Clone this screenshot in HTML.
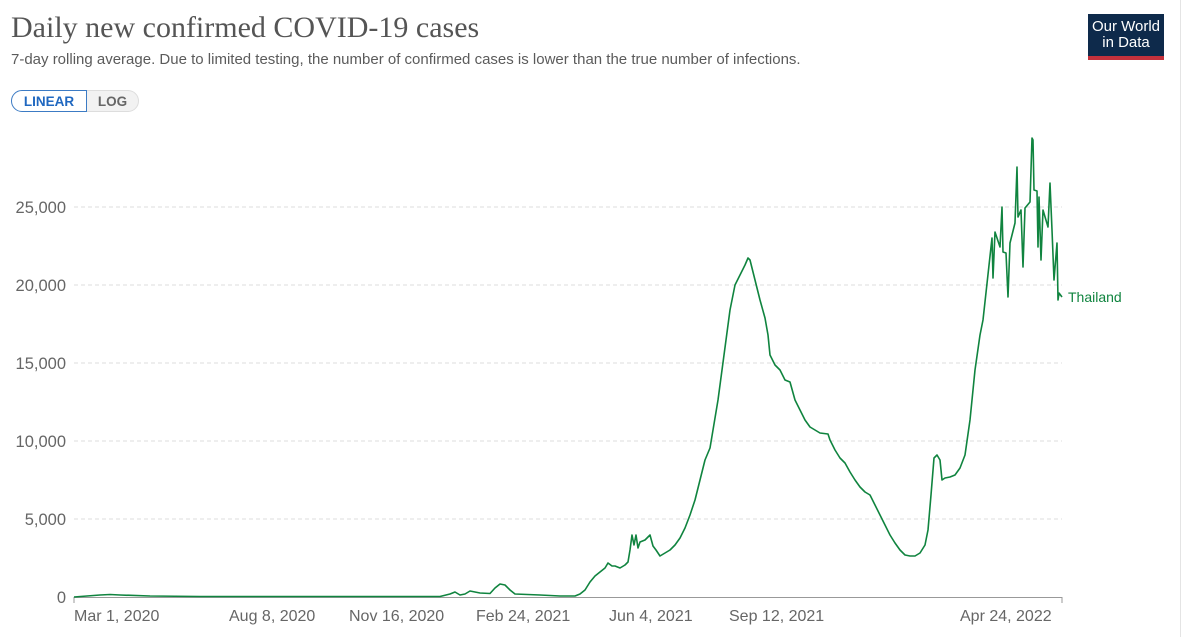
<!DOCTYPE html>
<html><head><style>
body{margin:0;background:#fff;width:1184px;height:637px;overflow:hidden;font-family:"Liberation Sans",sans-serif;position:relative}
.t{position:absolute;left:11px;top:11px;font-family:"Liberation Serif",serif;font-size:30px;color:#555}
.s{position:absolute;left:11px;top:51px;font-size:15px;color:#5b5b5b}
.btn{position:absolute;top:90px;height:22px;font-size:13.5px;line-height:22px;font-weight:bold}
.logo{position:absolute;left:1088px;top:14px;width:76px;height:46px;background:#0e2a4b;color:#fff;font-size:15px;text-align:center;line-height:16px;padding-top:5px;box-sizing:border-box;border-bottom:4px solid #c4313c}
</style></head><body>
<div class="t">Daily new confirmed COVID-19 cases</div>
<div class="s">7-day rolling average. Due to limited testing, the number of confirmed cases is lower than the true number of infections.</div>
<div class="btn" style="left:11px;width:76px;border:1px solid #3c7bc4;border-radius:12px 0 0 12px;color:#2068c0;text-align:center;box-sizing:border-box">LINEAR</div>
<div class="btn" style="left:87px;width:52px;border:1px solid #ddd;border-left:none;border-radius:0 12px 12px 0;background:#f2f2f2;color:#666;text-align:center;box-sizing:border-box">LOG</div>
<div class="logo">Our World<br>in Data</div>
<div style="position:absolute;left:1180px;top:0;width:1px;height:637px;background:#e4e4e4"></div>
<svg width="1184" height="637" style="position:absolute;left:0;top:0" font-family="Liberation Sans, sans-serif">
<g stroke="#ddd" stroke-dasharray="4,3">
<line x1="74" x2="1062" y1="519" y2="519"/><line x1="74" x2="1062" y1="441" y2="441"/><line x1="74" x2="1062" y1="363" y2="363"/><line x1="74" x2="1062" y1="285" y2="285"/><line x1="74" x2="1062" y1="207" y2="207"/>
</g>
<line x1="74" x2="1062" y1="597.5" y2="597.5" stroke="#999"/>
<g fill="#666" font-size="16.5" text-anchor="end">
<text x="66" y="603">0</text><text x="66" y="525">5,000</text><text x="66" y="447">10,000</text><text x="66" y="369">15,000</text><text x="66" y="291">20,000</text><text x="66" y="213">25,000</text>
</g>
<g fill="#666" font-size="16">
<text x="74" y="621">Mar 1, 2020</text><text x="229" y="621">Aug 8, 2020</text><text x="349" y="621">Nov 16, 2020</text><text x="476" y="621">Feb 24, 2021</text><text x="609" y="621">Jun 4, 2021</text><text x="729" y="621">Sep 12, 2021</text><text x="960" y="621">Apr 24, 2022</text>
</g>
<g stroke="#999"><line x1="74" x2="74" y1="597" y2="603"/><line x1="1062" x2="1062" y1="597" y2="603"/></g>
<polyline fill="none" stroke="#10843f" stroke-width="1.6" stroke-linejoin="round" points="74,597 100,595 110,594.5 120,595 150,596 200,596.5 440,596.5 450,594 455,592 460,595 465,594 470,591 480,593 490,593.5 495,588 500,584 505,585 510,590 515,594 540,595 560,596 575,596 580,594 585,590 590,582 595,576 600,572 605,568 608,563 612,566 615,566 620,568 625,565 628,562 630,550 632,535 634,545 636,535 638,548 640,542 645,540 650,535 653,546 656,550 660,556 665,553 670,550 675,545 680,538 685,528 690,515 695,500 700,480 705,460 710,448 713,430 718,400 722,370 726,340 730,310 735,285 740,275 745,265 748,258 750,260 755,280 760,300 765,318 768,335 770,355 775,365 780,370 785,380 790,382 795,400 800,410 805,420 810,427 815,430 820,433 828,434 830,440 835,450 840,458 845,463 850,472 855,480 860,487 865,492 870,495 875,505 880,515 885,525 890,535 895,543 900,550 905,555 910,556 915,556 920,553 925,545 928,530 931,495 934,458 937,455 940,460 942,480 945,478 950,477 955,475 960,468 965,455 970,420 975,370 980,335 983,320 992,238 993,278 995,232 1000,247 1002,207 1003,252 1006,253 1008,297 1010,243 1015,223 1017,167 1018,217 1021,210 1023,267 1025,208 1030,202 1032,138 1033,140 1034,190 1037,191 1038,247 1039,197 1041,260 1043,210 1048,227 1050,183 1052,230 1054,280 1057,243 1058,300 1059,293 1062,297"/>
<text x="1068" y="302" fill="#10843f" font-size="14">Thailand</text>
</svg>
</body></html>
